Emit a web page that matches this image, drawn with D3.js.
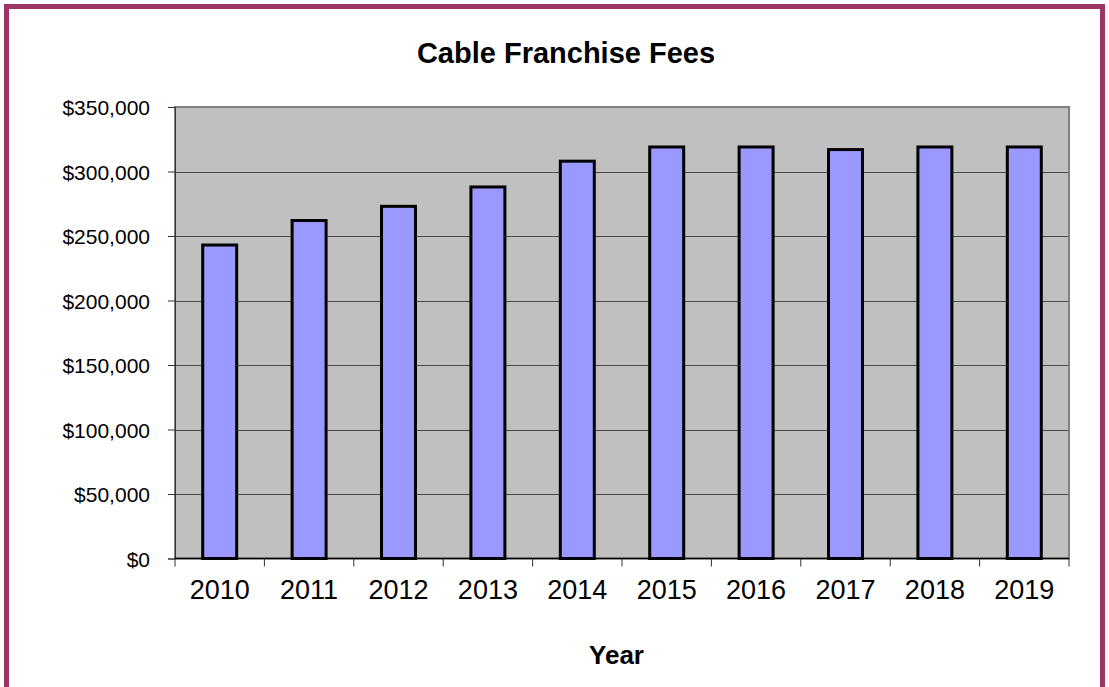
<!DOCTYPE html>
<html>
<head>
<meta charset="utf-8">
<script src="https://cdn.jsdelivr.net/npm/d3@7"></script>
<style>
  html, body { margin: 0; padding: 0; background: #ffffff; }
  svg { display: block; font-family: Arial, "Liberation Sans", sans-serif; }
</style>
</head>
<body>
<svg id="chart" width="1109" height="687"></svg>
<script>
// Cable franchise fee revenue by year
const years = ["2010", "2011", "2012", "2013", "2014", "2015", "2016", "2017", "2018", "2019"];
const fees = [243000, 262000, 273000, 288000, 308000, 319000, 319000, 317000, 319000, 319000];
const yTicks = [0, 50000, 100000, 150000, 200000, 250000, 300000, 350000];
const title = "Cable Franchise Fees";
const xTitle = "Year";

const svg = d3.select("#chart");

// Outer frame
svg.append("rect")
  .attr("x", 6.5).attr("y", 6.5)
  .attr("width", 1096).attr("height", 720)
  .attr("fill", "#ffffff")
  .attr("stroke", "#9b3567")
  .attr("stroke-width", 5);

const plot = { left: 175, right: 1069, top: 107, bottom: 558.5 };

const x = d3.scaleBand()
  .domain(years)
  .range([plot.left, plot.right])
  .paddingInner(0).paddingOuter(0);

const y = d3.scaleLinear()
  .domain([0, 350000])
  .range([plot.bottom, plot.top]);

// Plot background
svg.append("rect")
  .attr("x", plot.left).attr("y", plot.top)
  .attr("width", plot.right - plot.left)
  .attr("height", plot.bottom - plot.top)
  .attr("fill", "#c0c0c0");

// Horizontal gridlines
svg.append("g")
  .selectAll("line")
  .data(yTicks.filter(v => v > 0 && v < 350000))
  .join("line")
  .attr("x1", plot.left).attr("x2", plot.right)
  .attr("y1", d => Math.round(y(d)) + 0.5)
  .attr("y2", d => Math.round(y(d)) + 0.5)
  .attr("stroke", "#4a4a4a")
  .attr("stroke-width", 1);

// Plot border
svg.append("rect")
  .attr("x", plot.left).attr("y", plot.top)
  .attr("width", plot.right - plot.left)
  .attr("height", plot.bottom - plot.top)
  .attr("fill", "none")
  .attr("stroke", "#808080")
  .attr("stroke-width", 2);

// Bars
const barW = x.bandwidth() * 0.38;
svg.append("g")
  .selectAll("rect")
  .data(years.map((yr, i) => ({ yr, v: fees[i] })))
  .join("rect")
  .attr("x", d => x(d.yr) + (x.bandwidth() - barW) / 2)
  .attr("y", d => y(d.v))
  .attr("width", barW)
  .attr("height", d => y(0) - y(d.v))
  .attr("fill", "#9999ff")
  .attr("stroke", "#000000")
  .attr("stroke-width", 3);

// Y axis
const yAxis = d3.axisLeft(y)
  .tickValues(yTicks)
  .tickSize(7)
  .tickPadding(18)
  .tickFormat(d => "$" + d3.format(",")(d));

const gy = svg.append("g")
  .attr("transform", `translate(${plot.left},0)`)
  .call(yAxis);
gy.select(".domain").attr("stroke", "#333333").attr("stroke-width", 1);
gy.selectAll(".tick line").attr("stroke", "#333333");
gy.selectAll(".tick text")
  .attr("fill", "#000000")
  .style("font-size", "21px")
  .attr("dy", "0.36em");

// X axis: ticks between categories
svg.append("line")
  .attr("x1", plot.left).attr("x2", plot.right)
  .attr("y1", plot.bottom).attr("y2", plot.bottom)
  .attr("stroke", "#000000").attr("stroke-width", 1.5);

const boundaries = years.map(yr => x(yr)).concat([x(years[years.length - 1]) + x.bandwidth()]);
svg.append("g")
  .selectAll("line")
  .data(boundaries)
  .join("line")
  .attr("x1", d => d).attr("x2", d => d)
  .attr("y1", plot.bottom).attr("y2", plot.bottom + 8)
  .attr("stroke", "#333333").attr("stroke-width", 1);

svg.append("g")
  .selectAll("text")
  .data(years)
  .join("text")
  .attr("x", d => x(d) + x.bandwidth() / 2)
  .attr("y", 598.5)
  .attr("text-anchor", "middle")
  .style("font-size", "27px")
  .attr("fill", "#000000")
  .text(d => d);

// Titles
svg.append("text")
  .attr("x", 566).attr("y", 62.7)
  .attr("text-anchor", "middle")
  .style("font-size", "29px")
  .style("font-weight", "bold")
  .text(title);

svg.append("text")
  .attr("x", 616.5).attr("y", 664.3)
  .attr("text-anchor", "middle")
  .style("font-size", "26px")
  .style("font-weight", "bold")
  .text(xTitle);
</script>
</body>
</html>
